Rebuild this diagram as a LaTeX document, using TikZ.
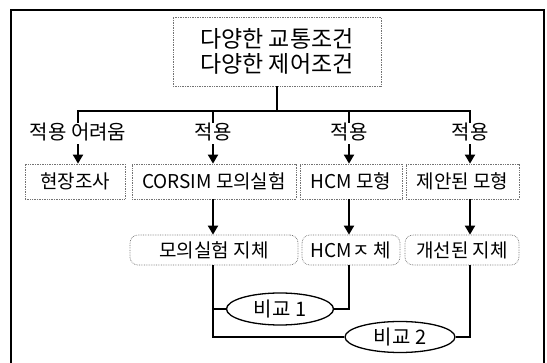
\documentclass[tikz,border=0pt]{standalone}
\usepackage{fontspec}
\setmainfont{Noto Sans CJK KR}
\usetikzlibrary{arrows.meta,shapes.geometric}
\tikzset{
  dotbox/.style={draw=black!55, densely dotted, line width=0.7pt, inner sep=0pt, font=\fontsize{19}{21}\selectfont},
  roundbox/.style={dotbox, rounded corners=8pt},
  lbl/.style={inner sep=0pt, font=\fontsize{20}{22}\selectfont},
  conn/.style={line width=1.8pt},
  arr/.style={line width=1.8pt, -{Triangle[length=9pt,width=10pt]}},
  cmp/.style={draw, ellipse, line width=1.3pt, inner sep=0pt, font=\fontsize{20}{22}\selectfont},
}
\begin{document}
\begin{tikzpicture}[x=1pt,y=-1pt]
\useasboundingbox (0,0) rectangle (547,363);
\fill[white] (0,0) rectangle (547,363);
% frame
\draw[line width=1.2pt] (11,363) -- (11,10) -- (544,10) -- (544,363);
% top box
\node[dotbox, minimum width=208pt, minimum height=69pt, align=center, font=\fontsize{23}{25}\selectfont] (top) at (277,51.5) {다양한 교통조건\\다양한 제어조건};
% bus
\coordinate (bus) at (277,111);
\node[lbl] (l1) at (78,132) {적용 어려움};
\node[lbl] (l2) at (213,132) {적용};
\node[lbl] (l3) at (349,132) {적용};
\node[lbl] (l4) at (470,132) {적용};
\draw[conn] (top.south) -- (bus);
\draw[conn, line cap=rect] (l1.north |- bus) -- (l4.north |- bus);
\foreach \i in {1,2,3,4} { \draw[conn] (l\i.north |- bus) -- ++(0,12); }
% row 2
\node[dotbox, minimum width=100pt, minimum height=35pt] (r1) at (75,181.5) {현장조사};
\node[dotbox, minimum width=164pt, minimum height=35pt] (r2) at (214,181.5) {CORSIM 모의실험};
\node[dotbox, minimum width=102pt, minimum height=35pt] (r3) at (351,181.5) {HCM 모형};
\node[dotbox, minimum width=113pt, minimum height=35pt] (r4) at (462.5,181.5) {제안된 모형};
\foreach \i in {1,2,3,4} { \draw[arr] (l\i.south) ++(0,3) -- (l\i.south |- r\i.north); }
% row 3
\node[roundbox, minimum width=168pt, minimum height=30pt] (s2) at (214,250) {모의실험 지체};
\node[roundbox, minimum width=98pt, minimum height=30pt] (s3) at (351,250) {HCMㅈ 체};
\node[roundbox, minimum width=114pt, minimum height=30pt] (s4) at (462,250) {개선된 지체};
\foreach \i in {2,3,4} { \draw[arr] (l\i.south |- r\i.south) -- (l\i.south |- s\i.north); }
% comparisons
\node[cmp, minimum width=107pt, minimum height=32pt] (e1) at (280,309) {비교 1};
\node[cmp, minimum width=110pt, minimum height=31pt] (e2) at (400,337) {비교 2};
\draw[conn] (l2.south |- s2.south) |- (e2.west);
\draw[conn] (l2.south |- e1.west) -- (e1.west);
\draw[conn] (l3.south |- s3.south) |- (e1.east);
\draw[conn] (l4.south |- s4.south) |- (e2.east);
\end{tikzpicture}
\end{document}
